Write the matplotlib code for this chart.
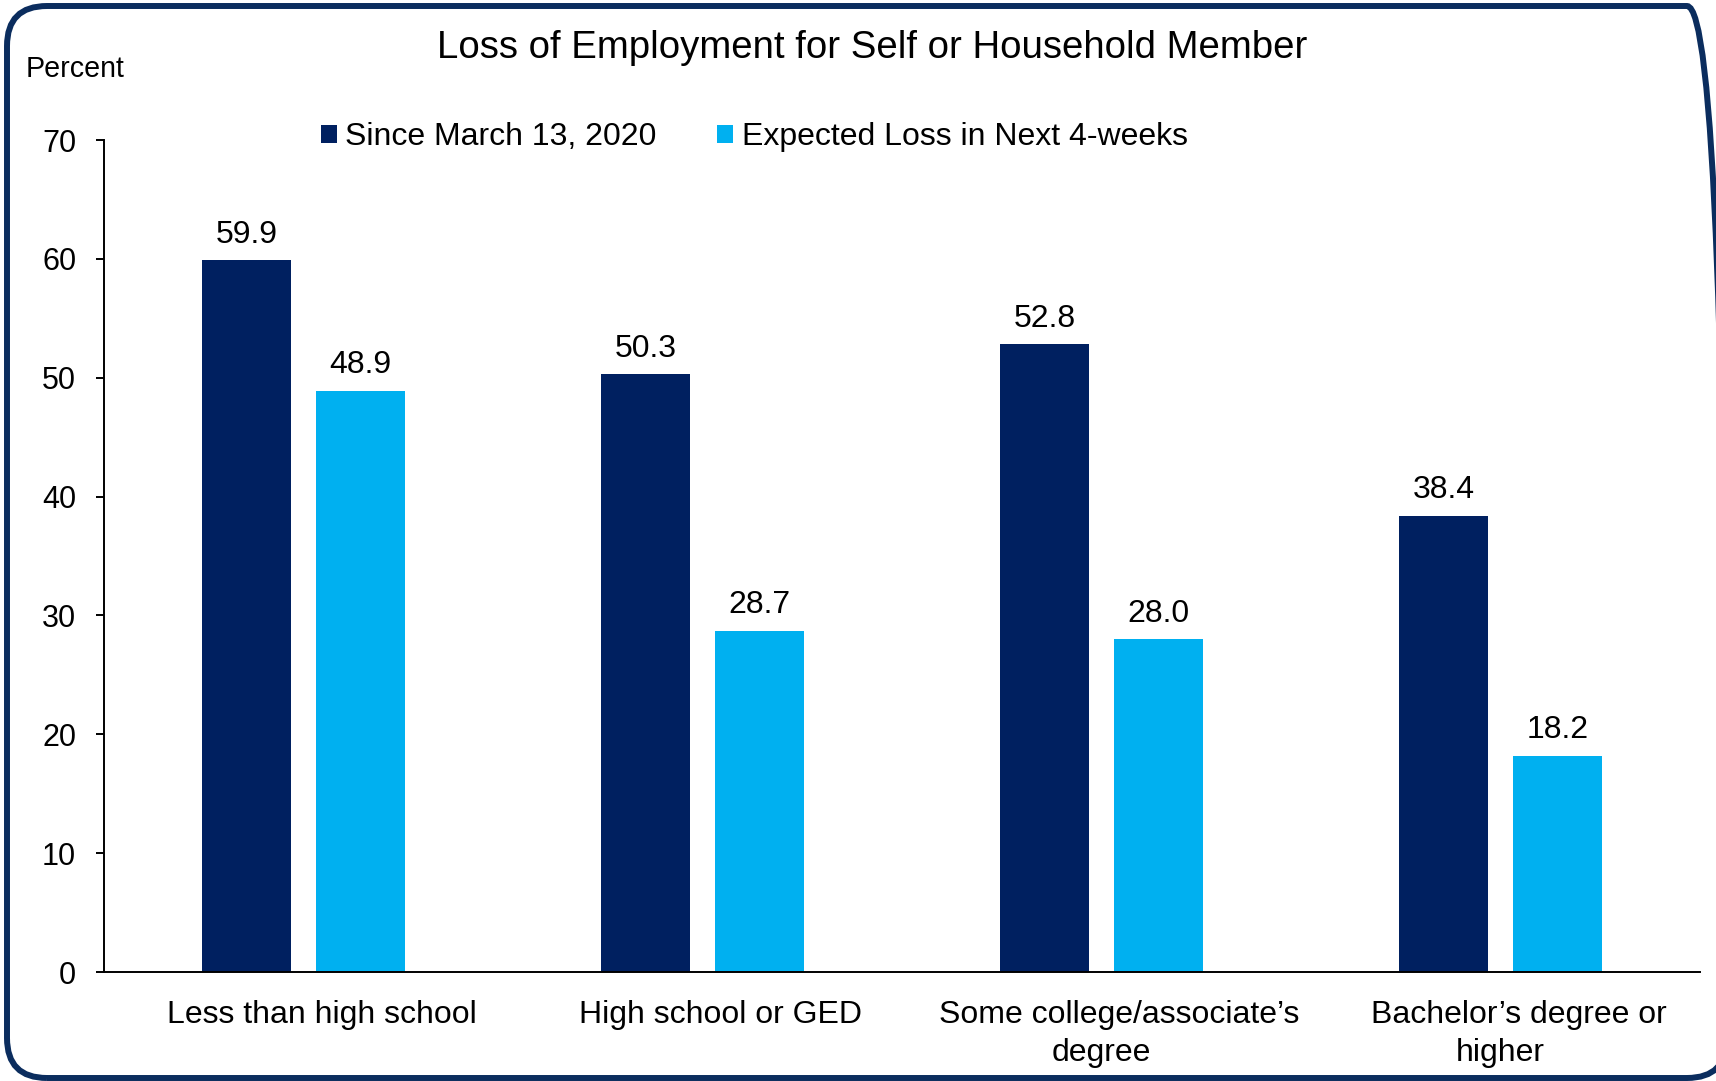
import numpy as np
import matplotlib
matplotlib.use("Agg")
import matplotlib.pyplot as plt
from matplotlib.patches import FancyBboxPatch, Patch

plt.rcParams["font.family"] = ["Liberation Sans", "DejaVu Sans"]

# Data
categories_line1 = ["Less than high school", "High school or GED",
                    "Some college/associate\u2019s", "Bachelor\u2019s degree or"]
categories_line2 = ["", "", "degree", "higher"]
since_march = [59.9, 50.3, 52.8, 38.4]
expected_loss = [48.9, 28.7, 28.0, 18.2]
series_labels = ["Since March 13, 2020", "Expected Loss in Next 4-weeks"]
y_ticks = [0, 10, 20, 30, 40, 50, 60, 70]

DARK = "#002060"
LIGHT = "#00B0F0"
BORDER = "#0b2d5e"

W, H = 1716, 1081
fig = plt.figure(figsize=(W / 100, H / 100), dpi=100)
ax = fig.add_axes([104 / W, 109 / H, (1700 - 104) / W, (941 - 109) / H])

x = np.arange(len(since_march))
width = 0.223
offset = 0.1425

b1 = ax.bar(x - offset, since_march, width, color=DARK, label=series_labels[0])
b2 = ax.bar(x + offset, expected_loss, width, color=LIGHT, label=series_labels[1])

for bars in (b1, b2):
    ax.bar_label(bars, fmt="%.1f", padding=7.5, fontsize=23, color="black")

ax.set_xlim(-0.5, len(x) - 0.5)
ax.set_ylim(0, 70)
ax.set_yticks(y_ticks)
ax.set_xticks(x)
ax.set_xticklabels([""] * len(x))
ax.tick_params(axis="x", length=0)
ax.tick_params(axis="y", length=6, width=1.4, pad=14, labelsize=22, direction="out")

for side in ("top", "right"):
    ax.spines[side].set_visible(False)
for side in ("left", "bottom"):
    ax.spines[side].set_linewidth(1.4)
    ax.spines[side].set_color("black")

# Category labels (first line sits a little right of the group centre, as in the source)
trans = ax.get_xaxis_transform()
for i, (l1, l2) in enumerate(zip(categories_line1, categories_line2)):
    ax.annotate(l1, xy=(i, 0), xycoords=trans, xytext=(13, -20),
                textcoords="offset points", ha="center", va="top", fontsize=23)
    if l2:
        ax.annotate(l2, xy=(i, 0), xycoords=trans, xytext=(0, -47.5),
                    textcoords="offset points", ha="center", va="top", fontsize=23)

fig.text(872 / W, 1 - 58 / H, "Loss of Employment for Self or Household Member",
         ha="center", va="baseline", fontsize=27.6)
fig.text(26 / W, 1 - 77 / H, "Percent", ha="left", va="baseline", fontsize=20.6)

handles = [Patch(facecolor=DARK), Patch(facecolor=LIGHT)]
fig.legend(handles, series_labels, loc="center left",
           bbox_to_anchor=(321 / W, 1 - 137 / H), ncol=2, frameon=False,
           fontsize=23, handlelength=0.49, handleheight=0.49,
           handletextpad=0.27, columnspacing=1.9, borderpad=0, borderaxespad=0)

# Rounded outer border (right side runs off the canvas as in the source)
border = FancyBboxPatch((0.07, 0.03), 17.2, 10.72,
                        boxstyle="round,pad=0,rounding_size=0.4",
                        transform=fig.dpi_scale_trans, facecolor="none",
                        edgecolor=BORDER, linewidth=4.3, clip_on=False)
fig.patches.append(border)

fig.savefig("out.png", dpi=100)
